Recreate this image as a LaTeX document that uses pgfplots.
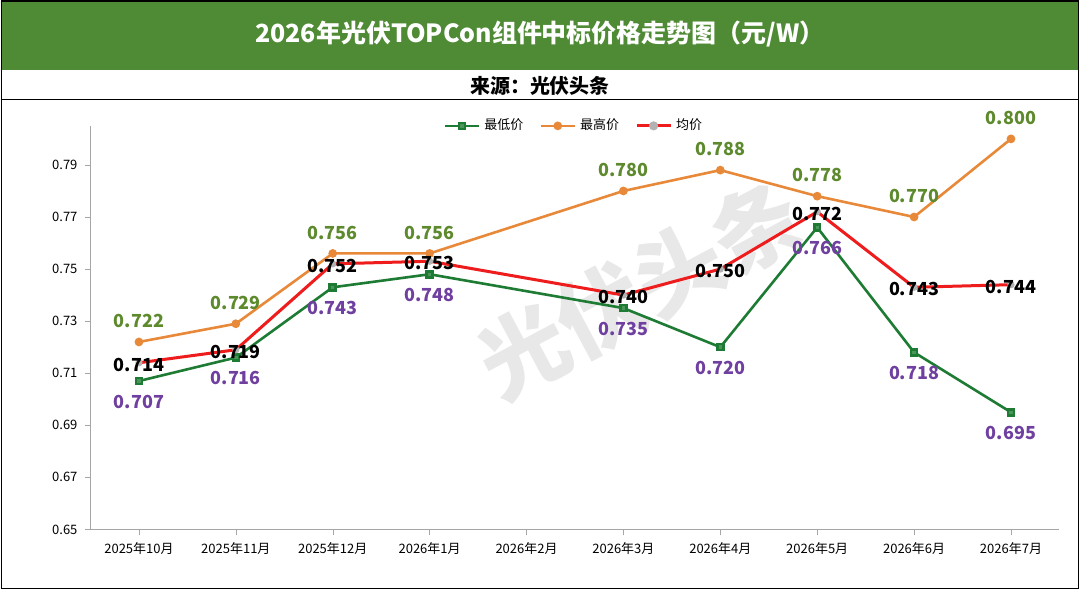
\documentclass[border=0pt]{standalone}
\usepackage{pgfplots}
\pgfplotsset{compat=1.18}
\usepackage{fontspec}
\setmainfont{Noto Sans CJK SC}
\definecolor{tgreen}{HTML}{4F8A35}
\definecolor{lmin}{HTML}{1E7B34}
\definecolor{lmax}{HTML}{E8893A}
\definecolor{lavg}{HTML}{EE1C1C}
\definecolor{lbmin}{HTML}{7040A0}
\definecolor{lbmax}{HTML}{5E8A2E}
\begin{document}
\begin{tikzpicture}[x=1pt,y=1pt]
\fill[white] (0,0) rectangle (540,295);
\fill[tgreen] (0,260) rectangle (540,295);
\node[white,font=\fontsize{12.5}{14}\selectfont\bfseries] at (270,278) {2026年光伏TOPCon组件中标价格走势图（元/W）};
\node[font=\fontsize{10}{12}\selectfont\bfseries] at (270,252) {来源：光伏头条};
\draw[black,line width=0.6pt] (0,245) -- (540,245);
\draw[black,line width=0.8pt] (0.4,0.4) rectangle (539.6,294.6);
\node[gray!18,font=\fontsize{44}{44}\selectfont\bfseries,rotate=28] at (320,150) {光伏头条};
\begin{axis}[at={(45pt,30pt)},anchor=south west,scale only axis,
 width=485pt,height=202pt,
 xmin=-0.5,xmax=9.5,ymin=0.65,ymax=0.805,
 xtick={0,...,9},
 xticklabels={2025年10月,2025年11月,2025年12月,2026年1月,2026年2月,2026年3月,2026年4月,2026年5月,2026年6月,2026年7月},
 ytick={0.65,0.67,...,0.791},
 yticklabel style={/pgf/number format/fixed,/pgf/number format/precision=2,/pgf/number format/fixed zerofill,/pgf/number format/assume math mode=true},
 ticklabel style={font=\fontsize{6.5}{8}\selectfont},
 axis x line*=bottom,axis y line*=left,
 axis line style={gray!70},
 major tick style={gray!70},
 tick align=outside,major tick length=3pt,
 legend style={at={(0.5,1.0)},anchor=center,draw=none,fill=none,
   font=\fontsize{6.5}{8}\selectfont,legend columns=-1,
   /tikz/every even column/.append style={column sep=6pt}},
 legend image post style={mark size=1.5pt},
 every node near coord/.append style={font=\fontsize{9}{10}\selectfont\bfseries,
   /pgf/number format/fixed,/pgf/number format/precision=3,/pgf/number format/fixed zerofill,/pgf/number format/assume math mode=true},
 point meta=y,
]
\addplot[lmin,line width=1.3pt,mark=square*,mark size=1.5pt,mark options={fill=lmin!80},
 nodes near coords,every node near coord/.append style={lbmin,anchor=north,yshift=-3pt}]
 coordinates {(0,0.707)(1,0.716)(2,0.743)(3,0.748)(5,0.735)(6,0.720)(7,0.766)(8,0.718)(9,0.695)};
\addlegendentry{最低价}
\addplot[lmax,line width=1.3pt,mark=*,mark size=1.5pt,
 nodes near coords,every node near coord/.append style={lbmax,anchor=south,yshift=3pt}]
 coordinates {(0,0.722)(1,0.729)(2,0.756)(3,0.756)(5,0.780)(6,0.788)(7,0.778)(8,0.770)(9,0.800)};
\addlegendentry{最高价}
\addplot[lavg,line width=1.5pt,mark=*,mark size=1pt,mark options={fill=gray!60,draw=gray!60},
 nodes near coords,every node near coord/.append style={black,anchor=center,yshift=-1pt}]
 coordinates {(0,0.714)(1,0.719)(2,0.752)(3,0.753)(5,0.740)(6,0.750)(7,0.772)(8,0.743)(9,0.744)};
\addlegendentry{均价}
\end{axis}
\end{tikzpicture}
\end{document}
